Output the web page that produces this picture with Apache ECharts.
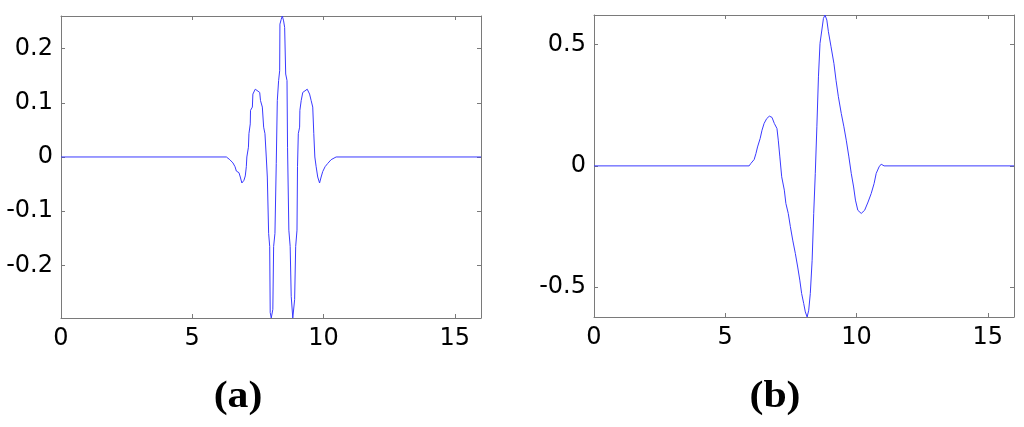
<!DOCTYPE html>
<html>
<head>
<meta charset="utf-8">
<script src="https://cdn.jsdelivr.net/npm/echarts@6/dist/echarts.min.js"></script>
<style>
html, body { margin: 0; padding: 0; background: #fff; }
#container { width: 1024px; height: 427px; }
</style>
</head>
<body>
<div id="container"></div>
<script>
// (a) wavelet
var xA = [0, 6.30, 6.43, 6.55, 6.63, 6.68, 6.78, 6.83, 6.89, 6.97, 7.02, 7.06, 7.08, 7.14, 7.16, 7.21, 7.22, 7.29, 7.31, 7.40,
	7.47, 7.57, 7.60, 7.67, 7.72, 7.77, 7.82, 7.86, 7.91, 7.95, 7.97, 8.01, 8.07, 8.10, 8.15, 8.20, 8.24, 8.29, 8.33, 8.34,
	8.39, 8.43, 8.48, 8.52, 8.56, 8.61, 8.63, 8.68, 8.73, 8.77, 8.83, 8.90, 8.94, 8.99, 9.01, 9.04, 9.09, 9.10, 9.15, 9.21,
	9.28, 9.38, 9.47, 9.53, 9.59, 9.63, 9.67, 9.72, 9.78, 9.85, 9.91, 9.97, 10.06, 10.16, 10.29, 10.48, 16];
var yA = [0, 0, -0.005, -0.011, -0.018, -0.026, -0.029, -0.037, -0.048, -0.043, -0.035, -0.018, 0, 0.018, 0.043, 0.061, 0.086, 0.092, 0.116, 0.125,
	0.122, 0.119, 0.104, 0.092, 0.055, 0.043, 0, -0.037, -0.141, -0.165, -0.287, -0.297, -0.281, -0.165, -0.141, -0.012, 0.104, 0.141, 0.159, 0.245,
	0.254, 0.26, 0.251, 0.239, 0.153, 0.141, 0.018, -0.135, -0.165, -0.257, -0.297, -0.263, -0.165, -0.135, -0.018, 0.043, 0.055, 0.086, 0.104, 0.119,
	0.122, 0.125, 0.116, 0.104, 0.092, 0.043, 0, -0.018, -0.037, -0.048, -0.037, -0.027, -0.018, -0.012, -0.005, 0, 0];

// (b) wavelet
var xB = [0, 5.91, 5.975, 6.10, 6.17, 6.23, 6.33, 6.40, 6.48, 6.58, 6.68, 6.78, 6.87, 6.97, 7.02, 7.08, 7.15, 7.25, 7.31, 7.40,
	7.48, 7.57, 7.67, 7.76, 7.84, 7.91, 7.99, 8.05, 8.12, 8.18, 8.24, 8.31, 8.37, 8.43, 8.49, 8.55, 8.61, 8.68, 8.74, 8.80,
	8.87, 8.93, 9.03, 9.14, 9.22, 9.31, 9.42, 9.52, 9.61, 9.71, 9.80, 9.89, 9.96, 10.05, 10.18, 10.31, 10.44, 10.56, 10.67, 10.75,
	10.86, 10.94, 11.05, 16];
var yB = [0, 0, 0.01, 0.026, 0.051, 0.078, 0.113, 0.147, 0.175, 0.195, 0.205, 0.2, 0.175, 0.154, 0.106, 0.037, -0.045, -0.1, -0.155, -0.196,
	-0.25, -0.306, -0.361, -0.417, -0.471, -0.526, -0.568, -0.602, -0.623, -0.595, -0.526, -0.389, -0.196, -0.031, 0.161, 0.367, 0.505, 0.56, 0.608, 0.622,
	0.601, 0.553, 0.491, 0.422, 0.353, 0.285, 0.216, 0.161, 0.106, 0.037, -0.031, -0.087, -0.141, -0.183, -0.196, -0.183, -0.149, -0.114, -0.073, -0.031,
	-0.004, 0.007, 0, 0];

var xTicks = [0, 5, 10, 15];
var yTicksA = [-0.2, -0.1, 0, 0.1, 0.2];
var yTicksB = [-0.5, 0, 0.5];
var panelNames = ['(a)', '(b)'];

function pairs(xs, ys) {
	var out = [];
	for (var i = 0; i < xs.length; i++) out.push([xs[i], ys[i]]);
	return out;
}

var axisColor = '#7a7a7a';
var labelFont = { color: '#000', fontSize: 24, fontFamily: 'DejaVu Sans, sans-serif' };

function xAx(grid, pos, show) {
	return {
		type: 'value', gridIndex: grid, position: pos, min: 0, max: 16,
		axisLine: { show: true, onZero: false, lineStyle: { color: axisColor, width: 1 } },
		axisTick: { show: true, inside: true, length: 4, customValues: xTicks, lineStyle: { color: axisColor } },
		axisLabel: Object.assign({ show: show, margin: 9, customValues: xTicks }, labelFont),
		splitLine: { show: false }
	};
}
function yAx(grid, pos, show, lo, hi, ticks) {
	return {
		type: 'value', gridIndex: grid, position: pos, min: lo, max: hi,
		axisLine: { show: true, onZero: false, lineStyle: { color: axisColor, width: 1 } },
		axisTick: { show: true, inside: true, length: 4, customValues: ticks, lineStyle: { color: axisColor } },
		axisLabel: Object.assign({ show: show, margin: 8, customValues: ticks }, labelFont),
		splitLine: { show: false }
	};
}

var dom = document.getElementById('container');
var myChart = echarts.init(dom, null, { renderer: 'canvas' });
var option = {
	animation: false,
	backgroundColor: '#fff',
	grid: [
		{ left: 61, top: 16, width: 420, height: 302 },
		{ left: 594, top: 15, width: 420, height: 302 }
	],
	xAxis: [xAx(0, 'bottom', true), xAx(0, 'top', false), xAx(1, 'bottom', true), xAx(1, 'top', false)],
	yAxis: [
		yAx(0, 'left', true, -0.297, 0.26, yTicksA), yAx(0, 'right', false, -0.297, 0.26, yTicksA),
		yAx(1, 'left', true, -0.623, 0.622, yTicksB), yAx(1, 'right', false, -0.623, 0.622, yTicksB)
	],
	series: [
		{ type: 'line', xAxisIndex: 0, yAxisIndex: 0, data: pairs(xA, yA), showSymbol: false,
			lineStyle: { color: '#3a3aff', width: 1 } },
		{ type: 'line', xAxisIndex: 2, yAxisIndex: 2, data: pairs(xB, yB), showSymbol: false,
			lineStyle: { color: '#3a3aff', width: 1 } }
	],
	graphic: [
		{ type: 'text', x: 238, y: 397, scaleX: 1.1, style: { text: panelNames[0], font: 'bold 38px "Liberation Serif", serif', fill: '#000', align: 'center', verticalAlign: 'middle' } },
		{ type: 'text', x: 775, y: 397, scaleX: 1.1, style: { text: panelNames[1], font: 'bold 38px "Liberation Serif", serif', fill: '#000', align: 'center', verticalAlign: 'middle' } }
	]
};
myChart.setOption(option);
</script>
</body>
</html>
